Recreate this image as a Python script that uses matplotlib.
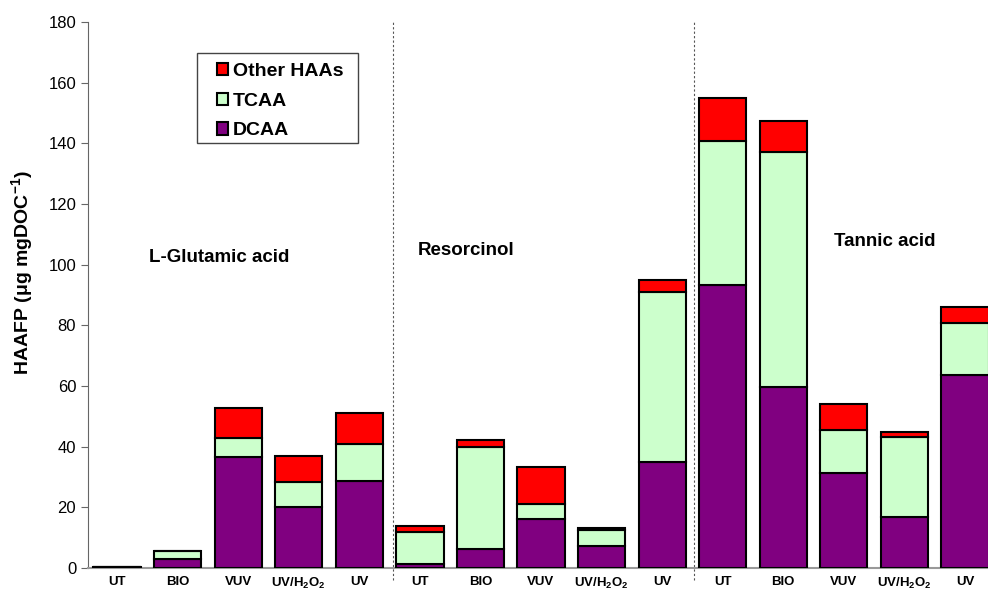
import matplotlib.pyplot as plt
from matplotlib.patches import Rectangle
import numpy as np

plt.rcParams['font.family'] = ['Liberation Sans', 'DejaVu Sans']
plt.rcParams['mathtext.fontset'] = 'custom'
plt.rcParams['mathtext.rm'] = 'Liberation Sans'
plt.rcParams['mathtext.bf'] = 'Liberation Sans:bold'
plt.rcParams['mathtext.default'] = 'bf'

treatments = ['UT', 'BIO', 'VUV', r'UV/H$_2$O$_2$', 'UV']
compounds = ['L-Glutamic acid', 'Resorcinol', 'Tannic acid']

# values read per compound, in treatment order
dcaa = [0.3, 3.0, 36.5, 20.0, 28.8,
        1.3, 6.3, 16.2, 7.4, 35.0,
        93.3, 59.6, 31.4, 16.9, 63.6]
tcaa = [0.0, 2.6, 6.3, 8.3, 12.0,
        10.7, 33.7, 4.8, 5.1, 56.0,
        47.6, 77.7, 14.1, 26.2, 17.3]
other = [0.0, 0.0, 9.9, 8.6, 10.2,
         2.0, 2.2, 12.4, 0.8, 4.0,
         14.0, 10.2, 8.6, 1.8, 5.0]

labels = treatments * 3
x = np.arange(len(labels))
dcaa = np.array(dcaa)
tcaa = np.array(tcaa)
other = np.array(other)

fig = plt.figure(figsize=(9.88, 5.92), dpi=100)
ax = fig.add_axes([88 / 988, 1 - 568 / 592, 1 - 88 / 988, (568 - 22) / 592])

w = 0.78
ax.bar(x, dcaa, w, color='#800080', edgecolor='black', linewidth=1.5, label='DCAA', zorder=3)
ax.bar(x, tcaa, w, bottom=dcaa, color='#CCFFCC', edgecolor='black', linewidth=1.5,
       label='TCAA', zorder=3)
ax.bar(x, other, w, bottom=dcaa + tcaa, color='#FF0000', edgecolor='black', linewidth=1.5,
       label='Other HAAs', zorder=3)

ax.set_xlim(-0.48, 14.38)
ax.set_ylim(0, 180)
ax.set_yticks(range(0, 181, 20))
ax.tick_params(axis='y', labelsize=12, direction='out', length=5, color='#666666')
ax.tick_params(axis='x', length=0, labelsize=9.5, pad=6)
ax.set_xticks(x)
ax.set_xticklabels(labels, fontweight='bold')

for s in ['top', 'right']:
    ax.spines[s].set_visible(False)
ax.spines['left'].set_color('#666666')
ax.spines['bottom'].set_color('#999999')
ax.spines['bottom'].set_linewidth(1.5)

for xs in [4.55, 9.52]:
    ax.plot([xs, xs], [-4, 180], color='#555555', linestyle=(0, (2, 2)), linewidth=0.8,
            clip_on=False, zorder=1)

ax.set_ylabel(r'HAAFP ($\mu$g mgDOC$^{-1}$)', fontsize=14, fontweight='bold')
ax.yaxis.set_label_coords(-0.059, 0.54)

ax.text(1.68, 102.5, compounds[0], fontsize=13.5, fontweight='bold', ha='center', va='center')
ax.text(5.76, 104.8, compounds[1], fontsize=13.5, fontweight='bold', ha='center', va='center')
ax.text(12.68, 107.5, compounds[2], fontsize=13.5, fontweight='bold', ha='center', va='center')

# legend with its own frame box
handles, lbls = ax.get_legend_handles_labels()
ax.legend(handles[::-1], lbls[::-1], loc='upper left', bbox_to_anchor=(0.143, 0.925),
          borderaxespad=0, borderpad=0, prop={'weight': 'bold', 'size': 14}, frameon=False,
          handlelength=0.6, handleheight=0.6, handletextpad=0.25, labelspacing=0.65)
ax.add_patch(Rectangle((0.1211, 0.778), 0.179, 0.165, transform=ax.transAxes,
                       facecolor='white', edgecolor='#444444', linewidth=1.0, zorder=4))

fig.savefig('out.png', dpi=100)
